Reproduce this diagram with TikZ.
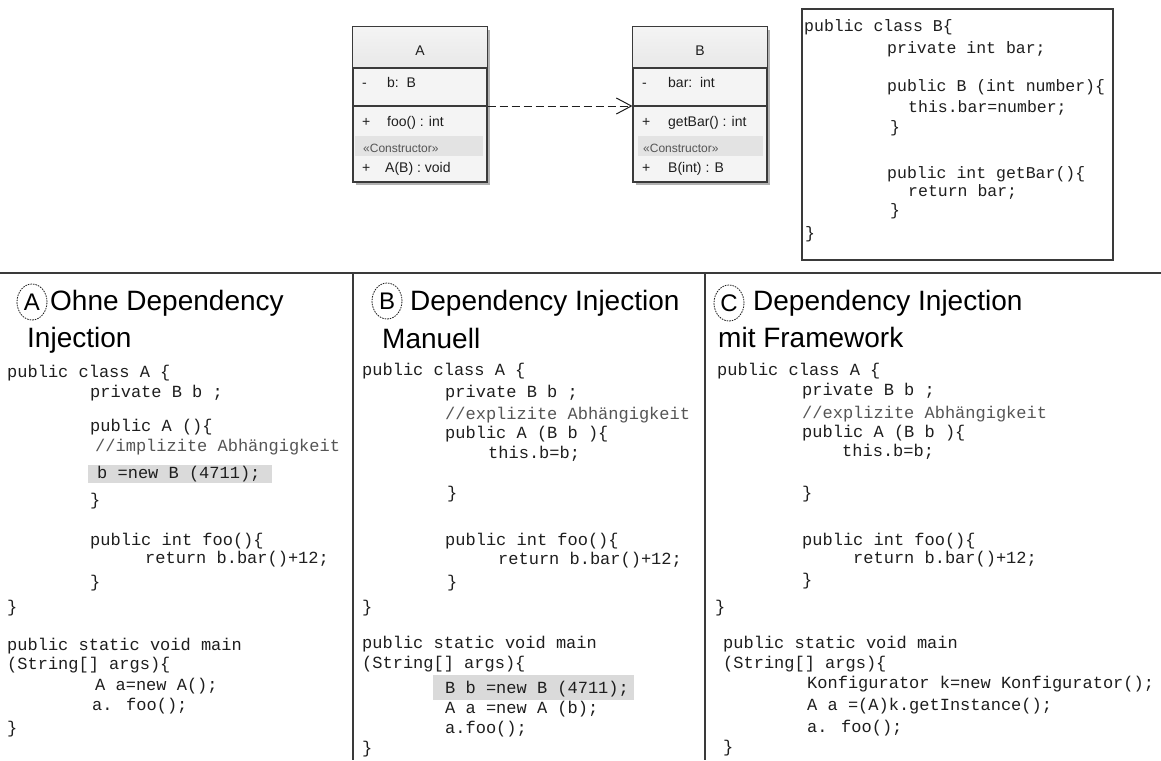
\documentclass[tikz,border=0pt]{standalone}
\usepackage{fontspec}
\setmainfont{Liberation Sans}
\newfontfamily\codefont{Liberation Mono}
\usetikzlibrary{arrows.meta,shapes.geometric,shadows}

\definecolor{ink}{HTML}{1E1E1E}
\definecolor{rulecol}{HTML}{3A3A3A}
\definecolor{commentcol}{HTML}{555555}
\definecolor{hilite}{HTML}{DADADA}
\definecolor{umlfill}{HTML}{F4F4F4}
\definecolor{umlhead}{HTML}{E8E8E8}
\definecolor{ctorband}{HTML}{E3E3E3}

\tikzset{
  code/.style={anchor=base west, inner sep=0pt, text=ink,
    font=\codefont\fontsize{17}{20}\selectfont},
  codeB/.style={code, font=\codefont\fontsize{16.5}{20}\selectfont},
  comm/.style={code, text=commentcol},
  heading/.style={anchor=base west, inner sep=0pt, text=black,
    font=\fontsize{28}{34}\selectfont},
  badge/.style={ellipse, draw=ink, line width=0.8pt, dash pattern=on 1.6pt off 1pt,
    minimum width=30pt, minimum height=36pt, inner sep=0pt,
    font=\fontsize{24}{28}\selectfont},
  uml/.style={anchor=base west, inner sep=0pt, text=ink,
    font=\fontsize{14}{16}\selectfont},
  umltitle/.style={anchor=base, inner sep=0pt, text=ink,
    font=\fontsize{14}{16}\selectfont},
  stereo/.style={anchor=base west, inner sep=0pt, text=commentcol,
    font=\fontsize{12}{14}\selectfont},
  umlbox/.style={rectangle, draw=rulecol, line width=1.2pt, fill=umlfill,
    minimum width=134pt, minimum height=155pt, inner sep=0pt,
    drop shadow={shadow xshift=3pt, shadow yshift=-3pt, fill=gray!60, opacity=1}},
  frame/.style={draw=rulecol, line width=1.6pt},
  dep/.style={draw=ink, line width=1pt, dash pattern=on 8pt off 4pt,
    -{Straight Barb[length=15pt,width=16pt,line width=1pt]}},
}
\newcommand\cln[5][code]{\node[#1] (#2) at (#3,#4) {#5};}

\begin{document}
\begin{tikzpicture}[x=1pt,y=-1pt]
\useasboundingbox (0,0) rectangle (1161,760);
\fill[white] (0,0) rectangle (1161,760);

% ---------- UML classes ----------
\coordinate (r1) at (0,68);
\coordinate (r2) at (0,106);
\node[umlbox] (clsA) at (420,104.5) {};
\node[umlbox] (clsB) at (700,104.5) {};
\foreach \c in {clsA,clsB}{
  \shade[top color=umlfill, bottom color=umlhead] (\c.north west) rectangle (\c.east |- r1);
  \draw[rulecol, line width=1.2pt] (\c.north west) rectangle (\c.south east);
  \draw[rulecol, line width=1.2pt] (\c.west |- r1) -- (\c.east |- r1);
  \draw[rulecol, line width=1.2pt] (\c.west |- r2) -- (\c.east |- r2);
}
\fill[ctorband] (355,136) rectangle (483,156);
\fill[ctorband] (638,136) rectangle (763,156);

\node[umltitle] (tA) at (420,56) {A};
\node[uml] (aV1) at (362,88) {-};
\node[uml] (aT1) at (387,88) {b:\ \ B};
\node[uml] (aV2) at (362,126) {+};
\node[uml] (aT2) at (387,126) {foo() : int};
\node[stereo] (aS) at (363,152) {«Constructor»};
\node[uml] (aV3) at (362,172) {+};
\node[uml] (aT3) at (385,172) {A(B) : void};

\node[umltitle] (tB) at (700,56) {B};
\node[uml] (bV1) at (642,88) {-};
\node[uml] (bT1) at (668,88) {bar:\ \ int};
\node[uml] (bV2) at (642,126) {+};
\node[uml] (bT2) at (668,126) {getBar() : int};
\node[stereo] (bS) at (643,152) {«Constructor»};
\node[uml] (bV3) at (642,172) {+};
\node[uml] (bT3) at (668,172) {B(int) : B};

\draw[dep] ([yshift=-1.5pt]clsA.east) -- ([yshift=-1.5pt]clsB.west);

% ---------- class B source ----------
\node[frame, rectangle, minimum width=311pt, minimum height=251pt, inner sep=0pt]
  (srcB) at (957.5,134.5) {};
\cln[codeB]{s1}{804}{32}{public class B\{}
\cln[codeB]{s2}{887}{53}{private int bar;}
\cln[codeB]{s3}{887}{92}{public B (int number)\{}
\cln[codeB]{s4}{908}{112}{this.bar=number;}
\cln[codeB]{s5}{890}{132}{\}}
\cln[codeB]{s6}{887}{178}{public int getBar()\{}
\cln[codeB]{s7}{908}{196}{return bar;}
\cln[codeB]{s8}{890}{215}{\}}
\cln[codeB]{s9}{805}{238}{\}}

% ---------- panel frame ----------
\draw[frame] (0,273) -- (1161,273);
\draw[frame] (353,273) -- (353,760);
\draw[frame] (705,273) -- (705,760);

% ---------- panel A ----------
\node[badge] (bdgA) at (32,302) {A};
\node[heading] (hA1) at (50,310) {Ohne Dependency};
\node[heading] (hA2) at (27,347) {Injection};
\fill[hilite] (88,465) rectangle (272,483);
\cln{a1}{7}{377}{public class A \{}
\cln{a2}{90}{397}{private B b ;}
\cln{a3}{90}{431}{public A ()\{}
\cln[comm]{a4}{95}{451}{//implizite Abhängigkeit}
\cln{a5}{97}{478}{b =new B (4711);}
\cln{a6}{90}{505}{\}}
\cln{a7}{90}{545}{public int foo()\{}
\cln{a8}{145}{563}{return b.bar()+12;}
\cln{a9}{90}{587}{\}}
\cln{a10}{7}{612}{\}}
\cln{a11}{7}{650}{public static void main}
\cln{a12}{7}{669}{(String[] args)\{}
\cln{a13}{95}{690}{A a=new A();}
\cln{a14}{92}{710}{a. foo();}
\cln{a15}{7}{733}{\}}

% ---------- panel B ----------
\node[badge] (bdgB) at (387,301) {B};
\node[heading] (hB1) at (410,310) {Dependency Injection};
\node[heading] (hB2) at (382,348) {Manuell};
\fill[hilite] (433,675) rectangle (634,700);
\cln{b1}{362}{375}{public class A \{}
\cln{b2}{445}{397}{private B b ;}
\cln[comm]{b3}{445}{419}{//explizite Abhängigkeit}
\cln{b4}{445}{438}{public A (B b )\{}
\cln{b5}{488}{458}{this.b=b;}
\cln{b6}{447}{498}{\}}
\cln{b7}{445}{545}{public int foo()\{}
\cln{b8}{498}{564}{return b.bar()+12;}
\cln{b9}{447}{587}{\}}
\cln{b10}{362}{612}{\}}
\cln{b11}{362}{648}{public static void main}
\cln{b12}{362}{668}{(String[] args)\{}
\cln{b13}{445}{693}{B b =new B (4711);}
\cln{b14}{445}{713}{A a =new A (b);}
\cln{b15}{445}{733}{a.foo();}
\cln{b16}{362}{753}{\}}

% ---------- panel C ----------
\node[badge] (bdgC) at (729,303) {C};
\node[heading] (hC1) at (753,310) {Dependency Injection};
\node[heading] (hC2) at (718,347) {mit Framework};
\cln{c1}{717}{375}{public class A \{}
\cln{c2}{802}{395}{private B b ;}
\cln[comm]{c3}{802}{418}{//explizite Abhängigkeit}
\cln{c4}{802}{437}{public A (B b )\{}
\cln{c5}{842}{456}{this.b=b;}
\cln{c6}{802}{498}{\}}
\cln{c7}{802}{545}{public int foo()\{}
\cln{c8}{853}{563}{return b.bar()+12;}
\cln{c9}{802}{585}{\}}
\cln{c10}{715}{612}{\}}
\cln{c11}{723}{648}{public static void main}
\cln{c12}{723}{668}{(String[] args)\{}
\cln{c13}{807}{688}{Konfigurator k=new Konfigurator();}
\cln{c14}{807}{710}{A a =(A)k.getInstance();}
\cln{c15}{807}{732}{a. foo();}
\cln{c16}{723}{752}{\}}
\end{tikzpicture}
\end{document}
